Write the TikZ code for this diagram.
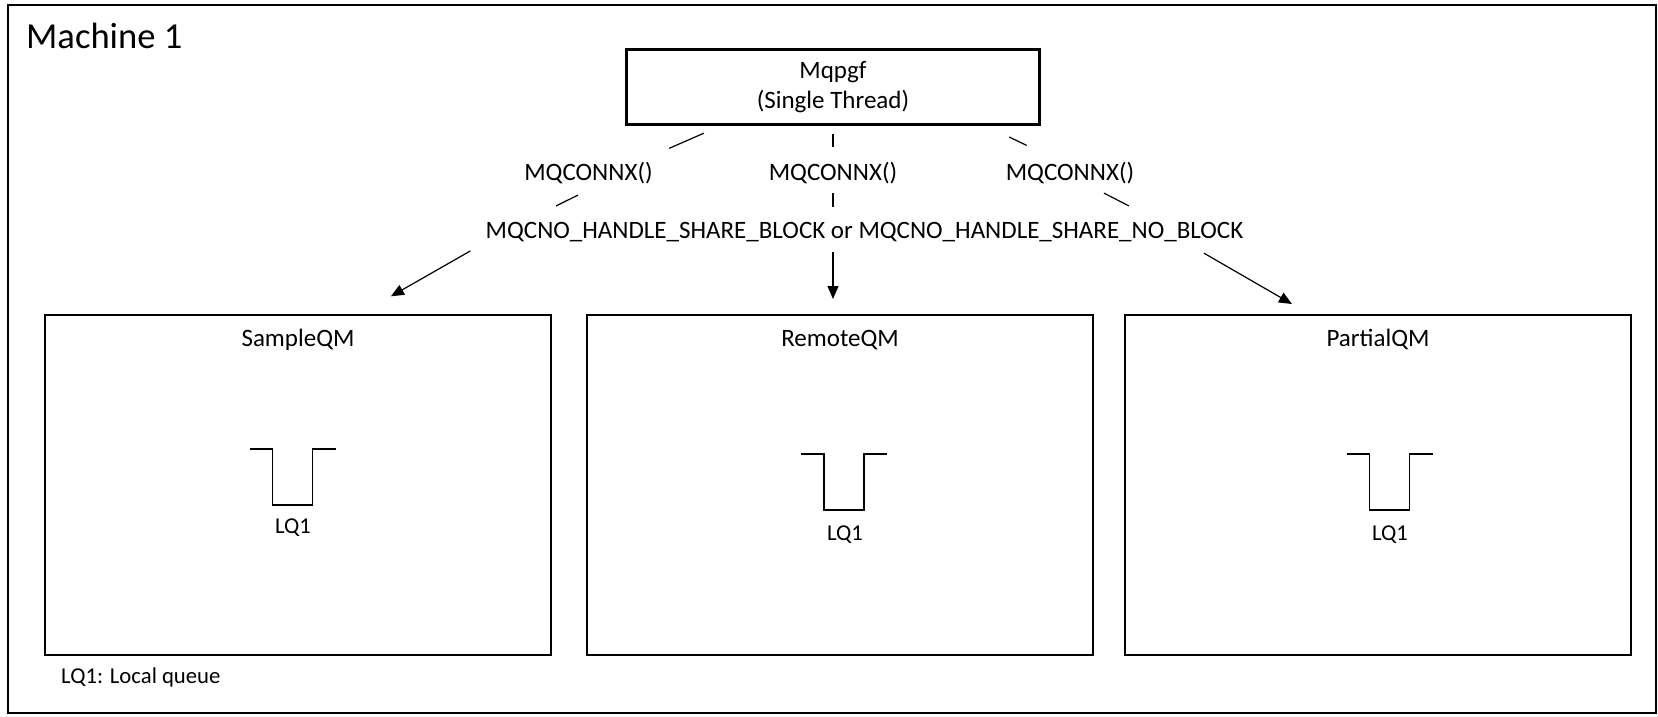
\documentclass[tikz,border=0pt]{standalone}
\usepackage{fontspec}
\setmainfont{Carlito}
\usetikzlibrary{arrows.meta}
\def\lqueue(#1:#2){\draw[qline] ({#1-43},#2) -- ({#1-20},#2) -- ({#1-20},{#2+56}) -- ({#1+20},{#2+56}) -- ({#1+20},#2) -- ({#1+43},#2);}
\tikzset{
	lbl/.style={font=\fontsize{25}{31}\selectfont, inner sep=0pt, text height=18pt, text depth=5pt},
	small/.style={font=\fontsize{22.7}{27}\selectfont, inner sep=0pt},
	qmbox/.style={draw, line width=2.2pt, outer sep=0pt, inner sep=0pt, minimum width=506pt, minimum height=340pt},
	conn/.style={line width=1.2pt},
	arr/.style={conn, -{Triangle[length=13pt,width=11pt]}},
	qline/.style={line width=1.2pt}
}
\begin{document}
\begin{tikzpicture}[x=1pt, y=-1pt]
		%%%%% START %%%%%
		
		\fill[white] (0,0) rectangle (1658,716);
		\useasboundingbox (0,0) rectangle (1658,716);
		\draw[line width=2.2pt] (8,5) rectangle (1656,713);
		\node[anchor=base west, inner sep=0pt, font=\fontsize{36.6}{44}\selectfont] (machine) at (26,48) {Machine 1};
		
		\node[draw, line width=2.2pt, outer sep=0pt, minimum width=413pt, minimum height=75pt, align=center, font=\fontsize{25}{30.5}\selectfont] (mqpgf) at (833,87) {Mqpgf\\(Single Thread)};
		
		\node[lbl] (cxl) at (588.5,174) {MQCONNX()};
		\node[lbl] (cxm) at (833,173.5) {MQCONNX()};
		\node[lbl] (cxr) at (1070,173.5) {MQCONNX()};
		\node[lbl] (share) at (864.5,231.5) {MQCNO\_HANDLE\_SHARE\_BLOCK or MQCNO\_HANDLE\_SHARE\_NO\_BLOCK};
		
		\node[qmbox] (sample) at (298,485) {};
		\node[qmbox] (remote) at (840,485) {};
		\node[qmbox] (partial) at (1378,485) {};
		\node[lbl] (samplelbl) at (298,340) {SampleQM};
		\node[lbl] (remotelbl) at (840,340) {RemoteQM};
		\node[lbl] (partiallbl) at (1378,340) {PartialQM};
		
		\lqueue(292.5:449)
		\lqueue(844:454)
		\lqueue(1389.5:454)
		\node[small, anchor=base] (lqs) at (293,533) {LQ1};
		\node[small, anchor=base] (lqr) at (845,540) {LQ1};
		\node[small, anchor=base] (lqp) at (1390,540) {LQ1};
		\node[small, anchor=base west] (note) at (61,683) {LQ1: Local queue};
		
		\draw[conn, shorten <=21.6pt, shorten >=34.9pt] ([xshift=-109.3pt]mqpgf.south) -- ([xshift=48.8pt]cxl.north);
		\draw[conn, shorten <=21.2pt, shorten >=31.3pt] ([xshift=8.5pt]cxl.south) -- ([xshift=-336.5pt]share.north);
		\draw[arr, shorten <=15.5pt, shorten >=37.7pt] ([xshift=-380.6pt]share.south) -- ([xshift=60.2pt]sample.north);
		
		\draw[conn, shorten <=9pt, shorten >=15pt] (mqpgf.south) -- (cxm.north);
		\draw[conn, shorten <=8pt, shorten >=13pt] (cxm.south) -- ([xshift=-31.5pt]share.north);
		\draw[arr, shorten <=9pt, shorten >=16pt] ([xshift=-31.5pt]share.south) -- ([xshift=-7pt]remote.north);
		
		\draw[conn, shorten <=29pt, shorten >=38pt] ([xshift=150pt]mqpgf.south) -- ([xshift=-9pt]cxr.north);
		\draw[conn, shorten <=17.3pt, shorten >=30.4pt] ([xshift=18.6pt]cxr.south) -- ([xshift=291.4pt]share.north);
		\draw[arr, shorten <=19.9pt, shorten >=22pt] ([xshift=322.2pt]share.south) -- ([xshift=-67pt]partial.north);
		
		%%%%% END %%%%%
\end{tikzpicture}
\end{document}
